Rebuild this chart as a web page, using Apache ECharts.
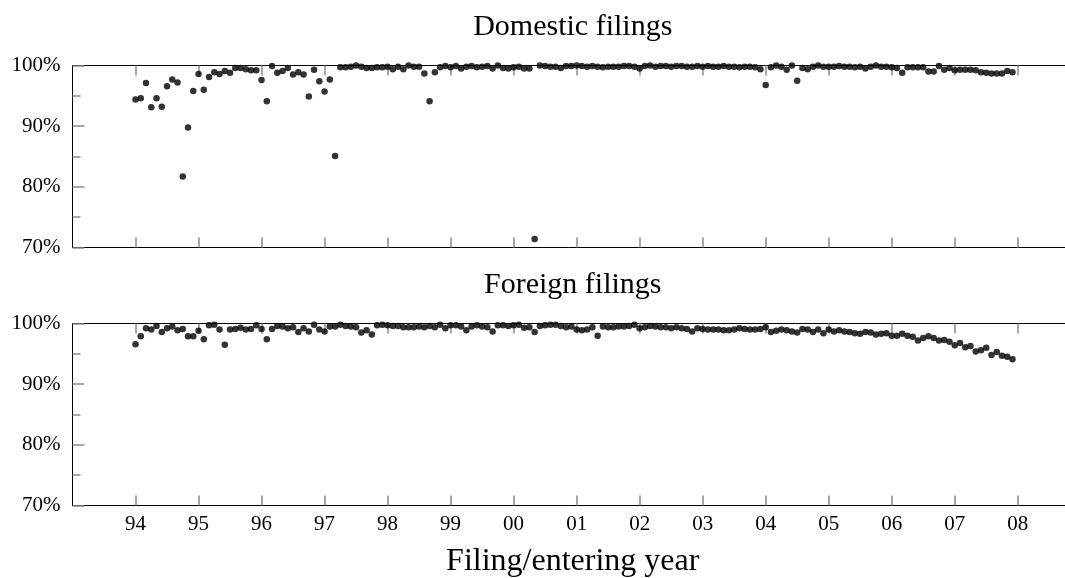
<!DOCTYPE html>
<html>
<head>
<meta charset="utf-8">
<script src="https://cdn.jsdelivr.net/npm/echarts@6/dist/echarts.min.js"></script>
<style>
  html, body { margin: 0; padding: 0; background: #fff; }
  #chart { width: 1065px; height: 578px; }
</style>
</head>
<body>
<div id="chart"></div>
<script>
// Monthly share (%) of filings, January 1994 through December 2007
const startYear = 1994;

const domestic = [
  94.4, 94.6, 97.1, 93.1, 94.6, 93.2, 96.6, 97.7, 97.2, 81.7, 89.8, 95.8,
  98.6, 96.0, 98.1, 98.9, 98.6, 99.1, 98.8, 99.6, 99.6, 99.4, 99.2, 99.2,
  97.6, 94.1, 99.9, 98.8, 99.1, 99.6, 98.5, 98.9, 98.5, 94.9, 99.3, 97.4,
  95.7, 97.7, 85.1, 99.7, 99.7, 99.8, 100.0, 99.8, 99.6, 99.6, 99.7, 99.7,
  99.8, 99.4, 99.8, 99.4, 100.0, 99.8, 99.8, 98.7, 94.1, 98.9, 99.7, 99.9,
  99.7, 99.9, 99.5, 99.8, 99.9, 99.7, 99.8, 99.9, 99.5, 100.0, 99.6, 99.5,
  99.7, 99.8, 99.5, 99.5, 71.4, 100.0, 99.9, 99.8, 99.8, 99.6, 99.9, 99.9,
  100.0, 99.9, 99.8, 99.9, 99.8, 99.7, 99.8, 99.8, 99.8, 99.9, 99.9, 99.8,
  99.5, 99.9, 100.0, 99.8, 99.9, 99.9, 99.8, 99.9, 99.9, 99.8, 99.8, 99.9,
  99.8, 99.9, 99.8, 99.8, 99.9, 99.8, 99.8, 99.7, 99.8, 99.8, 99.7, 99.4,
  96.8, 99.7, 100.0, 99.8, 99.3, 100.0, 97.5, 99.6, 99.4, 99.8, 100.0, 99.8,
  99.8, 99.8, 99.9, 99.8, 99.8, 99.7, 99.8, 99.5, 99.8, 100.0, 99.8, 99.8,
  99.7, 99.6, 98.8, 99.7, 99.7, 99.7, 99.7, 99.0, 99.0, 99.9, 99.3, 99.6,
  99.2, 99.3, 99.3, 99.3, 99.2, 98.9, 98.8, 98.7, 98.7, 98.7, 99.1, 98.9
];

const foreign = [
  96.6, 97.9, 99.2, 99.0, 99.6, 98.6, 99.2, 99.5, 98.9, 99.1, 97.9, 97.9,
  98.8, 97.4, 99.7, 99.8, 99.0, 96.5, 99.0, 99.1, 99.3, 99.0, 99.1, 99.7,
  99.1, 97.4, 99.1, 99.6, 99.5, 99.2, 99.4, 98.6, 99.2, 98.7, 99.8, 99.0,
  98.7, 99.5, 99.5, 99.8, 99.6, 99.5, 99.4, 98.5, 98.9, 98.2, 99.7, 99.8,
  99.7, 99.6, 99.6, 99.4, 99.4, 99.4, 99.5, 99.4, 99.6, 99.4, 99.8, 99.2,
  99.7, 99.7, 99.5, 98.9, 99.5, 99.7, 99.5, 99.4, 98.7, 99.7, 99.7, 99.6,
  99.7, 99.8, 99.3, 99.4, 98.6, 99.6, 99.7, 99.8, 99.8, 99.6, 99.4, 99.5,
  99.0, 98.9, 99.0, 99.4, 98.0, 99.5, 99.4, 99.4, 99.5, 99.5, 99.6, 99.8,
  99.2, 99.4, 99.6, 99.5, 99.4, 99.4, 99.2, 99.4, 99.2, 99.1, 98.7, 99.2,
  99.1, 99.0, 99.0, 99.0, 98.9, 98.9, 99.0, 99.2, 99.1, 99.0, 99.0, 99.1,
  99.4, 98.6, 98.8, 99.0, 98.9, 98.7, 98.5, 99.1, 99.0, 98.6, 99.0, 98.4,
  99.0, 98.7, 98.9, 98.7, 98.6, 98.4, 98.3, 98.6, 98.5, 98.2, 98.3, 98.4,
  98.0, 98.0, 98.3, 98.0, 97.8, 97.2, 97.6, 97.9, 97.6, 97.2, 97.3, 97.0,
  96.4, 96.8, 96.1, 96.3, 95.4, 95.6, 96.0, 94.8, 95.3, 94.7, 94.5, 94.1
];

// Axis ranges and tick values
const xRange = [1993, 2008.75];
const yearTicks = [1994, 1995, 1996, 1997, 1998, 1999, 2000, 2001, 2002, 2003, 2004, 2005, 2006, 2007, 2008];
const yTicks = [70, 80, 90, 100];

const panelTitles = ['Domestic filings', 'Foreign filings'];
const xAxisTitle = 'Filing/entering year';

const FONT = '"Liberation Serif", "DejaVu Serif", serif';
const TICK_GRAY = '#8a8a8a';

function toPoints(values) {
  return values.map((v, i) => [startYear + i / 12, v]);
}

function xAxisFor(gridIndex, position, showLabels) {
  return {
    type: 'value',
    gridIndex: gridIndex,
    position: position,
    min: xRange[0],
    max: xRange[1],
    interval: 1,
    axisLine: { show: true, lineStyle: { color: '#000', width: 1 } },
    axisTick: {
      show: true, inside: true, length: 10,
      customValues: yearTicks,
      lineStyle: { color: TICK_GRAY, width: 1.5 }
    },
    axisLabel: {
      show: showLabels,
      customValues: yearTicks,
      margin: 8,
      fontFamily: FONT,
      fontSize: 21,
      color: '#000',
      formatter: function (v) {
        return String(v % 100).padStart(2, '0');
      }
    },
    splitLine: { show: false }
  };
}

function yAxisFor(gridIndex) {
  return {
    type: 'value',
    gridIndex: gridIndex,
    min: yTicks[0],
    max: yTicks[yTicks.length - 1],
    interval: 10,
    axisLine: { show: true, lineStyle: { color: '#000', width: 1 } },
    axisTick: { show: true, inside: true, length: 12, lineStyle: { color: TICK_GRAY, width: 1.5 } },
    minorTick: { show: true, splitNumber: 2, length: 8, lineStyle: { color: TICK_GRAY, width: 1.5 } },
    axisLabel: {
      margin: 12,
      padding: [5, 0, 0, 0],
      fontFamily: FONT,
      fontSize: 21,
      color: '#000',
      formatter: '{value}%'
    },
    splitLine: { show: false },
    minorSplitLine: { show: false }
  };
}

const plotCenter = 72.5 + (1065 - 72.5) / 2;

const option = {
  animation: false,
  backgroundColor: '#fff',
  title: [
    { text: panelTitles[0], left: plotCenter + 4, top: 12, textAlign: 'center', padding: 0,
      textStyle: { fontFamily: FONT, fontSize: 30, fontWeight: 'normal', color: '#000' } },
    { text: panelTitles[1], left: plotCenter + 4, top: 270, textAlign: 'center', padding: 0,
      textStyle: { fontFamily: FONT, fontSize: 30, fontWeight: 'normal', color: '#000' } },
    { text: xAxisTitle, left: plotCenter + 4, top: 546, textAlign: 'center', padding: 0,
      textStyle: { fontFamily: FONT, fontSize: 32, fontWeight: 'normal', color: '#000' } }
  ],
  grid: [
    { left: 72.5, right: 0, top: 65.5, height: 182 },
    { left: 72.5, right: 0, top: 323.5, height: 182 }
  ],
  xAxis: [
    xAxisFor(0, 'bottom', false),
    xAxisFor(0, 'top', false),
    xAxisFor(1, 'bottom', true),
    xAxisFor(1, 'top', false)
  ],
  yAxis: [yAxisFor(0), yAxisFor(1)],
  series: [
    {
      name: panelTitles[0], type: 'scatter', xAxisIndex: 0, yAxisIndex: 0,
      data: toPoints(domestic), symbol: 'circle', symbolSize: 6.5,
      itemStyle: { color: '#000' }, clip: false
    },
    {
      name: panelTitles[1], type: 'scatter', xAxisIndex: 2, yAxisIndex: 1,
      data: toPoints(foreign), symbol: 'circle', symbolSize: 6.5,
      itemStyle: { color: '#000' }, clip: false
    }
  ]
};

const chart = echarts.init(document.getElementById('chart'), null, { renderer: 'canvas' });
chart.setOption(option);
</script>
</body>
</html>
